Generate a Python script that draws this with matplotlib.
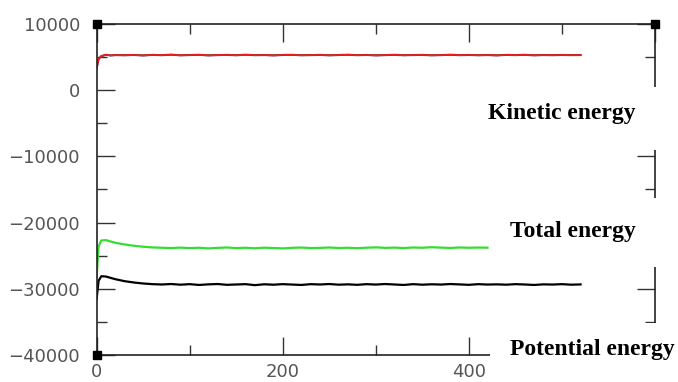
import matplotlib.pyplot as plt
from matplotlib.patches import Rectangle
from matplotlib.ticker import MultipleLocator, FuncFormatter

#Simulation time (ps) and energies
time_long = [0, 2, 5, 10, 15, 20, 30, 40, 50, 60, 70, 80, 90, 100, 110, 120, 130, 140,
             150, 160, 170, 180, 190, 200, 210, 220, 230, 240, 250, 260, 270, 280, 290,
             300, 310, 320, 330, 340, 350, 360, 370, 380, 390, 400, 410, 420, 430, 440,
             450, 460, 470, 480, 490, 500, 510, 520]
time_total = time_long[:46]

kinetic = [3300, 4700, 5150, 5350, 5250, 5300, 5280, 5320, 5250, 5330, 5290, 5360, 5270,
           5310, 5340, 5260, 5300, 5330, 5280, 5350, 5290, 5310, 5260, 5320, 5340, 5280,
           5300, 5330, 5270, 5310, 5350, 5290, 5320, 5260, 5300, 5340, 5280, 5310, 5330,
           5270, 5300, 5350, 5290, 5320, 5280, 5310, 5260, 5330, 5300, 5340, 5270, 5310,
           5290, 5320, 5300, 5310]

total = [-28200, -23600, -22700, -22650, -22850, -23050, -23300, -23500, -23650, -23750,
         -23800, -23850, -23780, -23860, -23800, -23900, -23820, -23760, -23850, -23800,
         -23880, -23790, -23840, -23900, -23810, -23770, -23850, -23820, -23760, -23840,
         -23800, -23870, -23790, -23740, -23820, -23780, -23850, -23760, -23800, -23720,
         -23780, -23830, -23760, -23800, -23770, -23790]

potential = [-31500, -28800, -28100, -28150, -28350, -28550, -28850, -29050, -29200,
             -29300, -29350, -29280, -29380, -29300, -29420, -29330, -29280, -29400,
             -29350, -29300, -29450, -29320, -29380, -29300, -29360, -29420, -29300,
             -29350, -29280, -29380, -29330, -29400, -29300, -29360, -29280, -29350,
             -29420, -29300, -29380, -29320, -29360, -29280, -29340, -29400, -29300,
             -29360, -29330, -29380, -29300, -29350, -29420, -29330, -29360, -29300,
             -29380, -29340]

fig = plt.figure(figsize=(6.78, 3.82), dpi=100)
ax = fig.add_axes([0.1426, 0.0707, 0.8235, 0.8665])

ax.plot(time_long, potential, color="black", lw=1.6)
ax.plot(time_total, total, color="#33dd33", lw=1.6)
ax.plot(time_long, kinetic, color="#333333", lw=1.5)
ax.plot(time_long, kinetic, color="#ff1a1a", lw=1.2)

ax.set_xlim(0, 600)
ax.set_ylim(-40000, 10000)
ax.xaxis.set_major_locator(MultipleLocator(200))
ax.xaxis.set_minor_locator(MultipleLocator(100))
ax.yaxis.set_major_locator(MultipleLocator(10000))
ax.yaxis.set_minor_locator(MultipleLocator(5000))
ax.xaxis.set_major_formatter(FuncFormatter(lambda v, p: "" if v > 500 else f"{v:.0f}"))
ax.yaxis.set_major_formatter(FuncFormatter(lambda v, p: f"\u2212{-v:.0f}" if v < 0 else f"{v:.0f}"))
ax.tick_params(which="both", direction="in", top=True, right=True, color="#333333",
               labelsize=13, labelcolor="#555555", width=1)
ax.tick_params(which="major", length=13)
ax.tick_params(which="minor", length=7)
ax.tick_params(axis="x", pad=6)
ax.tick_params(axis="y", pad=12)
for s in ax.spines.values():
    s.set_color("#222222")
    s.set_linewidth(1.2)

#Corner handles
ax.plot([0, 1, 0], [1, 1, 0], "s", color="black", ms=6, transform=ax.transAxes,
        clip_on=False, zorder=5)

#White boxes behind the energy labels (they hide parts of the frame)
for x0, y0, w, h in [(0.708, 0.607, 0.292, 0.165),
                     (0.730, 0.301, 0.270, 0.181),
                     (0.7227, 0.0, 0.2773, 0.154)]:
    fig.patches.append(Rectangle((x0, y0), w, h, transform=fig.transFigure,
                                 facecolor="white", edgecolor="none", zorder=5))

lab = dict(fontsize=17, fontweight="bold", family="Liberation Serif", zorder=6, va="center")
fig.text(0.72, 1 - 113 / 382, "Kinetic energy", **lab)
fig.text(0.752, 1 - 231 / 382, "Total energy", **lab)
fig.text(0.752, 1 - 349 / 382, "Potential energy", **lab)

plt.savefig("out.png", dpi=100)
